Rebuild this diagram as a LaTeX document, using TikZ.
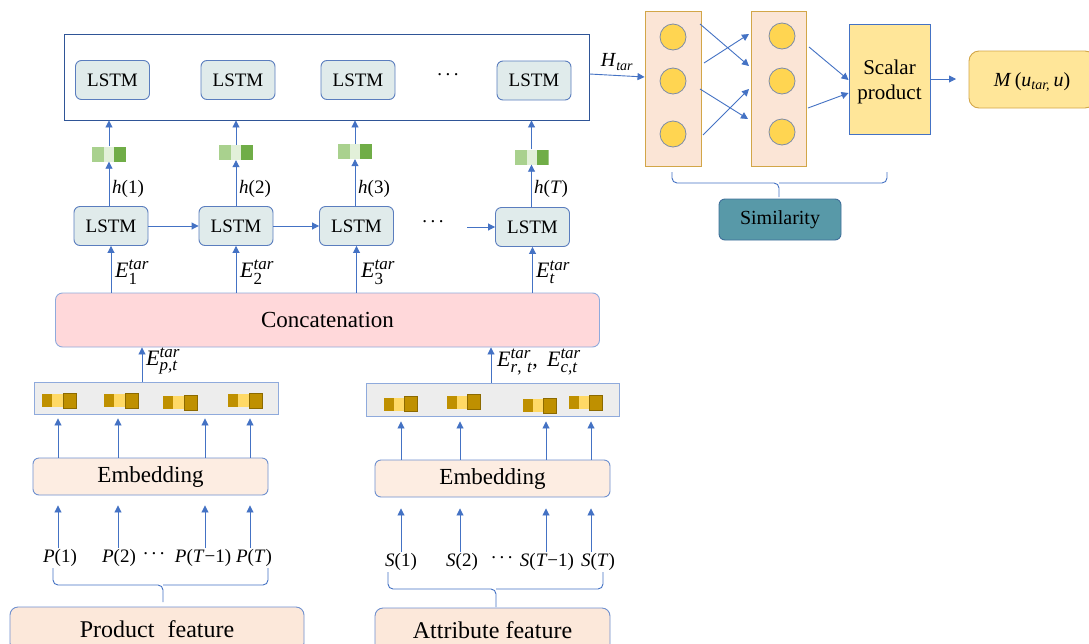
\documentclass[tikz,border=0pt]{standalone}
\usepackage{amsmath}
\usepackage{fontspec}
\setmainfont{LiberationSerif}[Extension=.ttf,UprightFont=*-Regular,ItalicFont=*-Italic,BoldFont=*-Bold,BoldItalicFont=*-BoldItalic]
\usetikzlibrary{arrows.meta}
\DeclareMathSizes{22}{22}{17}{13}
\DeclareMathSizes{20}{20}{14}{11}
\DeclareMathSizes{19}{19}{14}{11}
\definecolor{lb}{HTML}{4472C4}
\definecolor{lstmf}{HTML}{E0EBEB}
\definecolor{lstmb}{HTML}{5A7DBE}
\definecolor{topb}{HTML}{2F5597}
\definecolor{concf}{HTML}{FFD8DA}
\definecolor{lightb}{HTML}{8FAADC}
\definecolor{embf}{HTML}{FDEDE2}
\definecolor{embb}{HTML}{6F90CF}
\definecolor{vecf}{HTML}{EDEDED}
\definecolor{gold1}{HTML}{BF9000}
\definecolor{gold2}{HTML}{FFD966}
\definecolor{gold3}{HTML}{8C6A00}
\definecolor{g1}{HTML}{A9D18E}
\definecolor{g2}{HTML}{E2F0D9}
\definecolor{g3}{HTML}{70AD47}
\definecolor{colf}{HTML}{FBE5D6}
\definecolor{colb}{HTML}{D2A648}
\definecolor{circf}{HTML}{FFD551}
\definecolor{circb}{HTML}{7C8CA8}
\definecolor{scf}{HTML}{FFE699}
\definecolor{simf}{HTML}{5899A8}
\definecolor{simb}{HTML}{3F6F9A}
\definecolor{featf}{HTML}{FCE8DA}
\newcommand\fsA{\fontsize{19}{22}\selectfont}
\newcommand\fsB{\fontsize{19}{22}\selectfont}
\newcommand\fsC{\fontsize{20}{24}\selectfont}
\newcommand\fsD{\fontsize{22}{26}\selectfont}
\newcommand\fsE{\fontsize{23}{27}\selectfont}
\newcommand\fsF{\fontsize{24}{28}\selectfont}
\newcommand\ti[1]{\text{\itshape #1}}
\newcommand\mydots{\raisebox{0.3em}{.\hspace{0.18em}.\hspace{0.18em}.}}
\tikzset{
  lstm/.style={draw=lstmb, fill=lstmf, rounded corners=6pt, line width=0.9pt,
    minimum width=74pt, minimum height=39pt, inner sep=0pt, font=\fsA},
  arr/.style={draw=lb, line width=0.9pt, -{Triangle[width=7pt,length=7pt]}},
  lbl/.style={inner sep=1pt},
  gvec/.style={minimum width=34pt, minimum height=15pt, inner sep=0pt,
    path picture={
      \fill[g1] (path picture bounding box.south west) rectangle ([xshift=12pt]path picture bounding box.north west);
      \fill[g2] ([xshift=12pt]path picture bounding box.south west) rectangle ([xshift=22pt]path picture bounding box.north west);
      \fill[g3] ([xshift=22pt]path picture bounding box.south west) rectangle (path picture bounding box.north east);
    }},
  goldvec/.pic={
    \fill[gold1] (-17,-6.5) rectangle (-7,6.5);
    \fill[gold2] (-7,-6.5) rectangle (4,6.5);
    \filldraw[fill=gold1,draw=gold3,line width=0.6pt] (4,-7.5) rectangle (17,7.5);
  },
  vbox/.style={draw=lightb, fill=vecf, line width=0.9pt, inner sep=0pt},
  embbox/.style={draw=embb, fill=embf, rounded corners=6pt, line width=0.9pt, inner sep=0pt, font=\fsE},
  featbox/.style={draw=embb, fill=featf, rounded corners=8pt, line width=0.9pt, inner sep=0pt, font=\fsF},
  colbox/.style={draw=colb, fill=colf, line width=0.9pt, inner sep=0pt},
  neuron/.style={circle, draw=circb, fill=circf, line width=0.8pt, minimum size=26pt, inner sep=0pt},
  bracepath/.style={draw=lb, line width=0.9pt, rounded corners=5pt}
}
\begin{document}
\begin{tikzpicture}[x=1pt,y=-1pt]
\useasboundingbox (0,0) rectangle (1089,643);
\fill[white] (0,0) rectangle (1089,643);

% ---------- top LSTM layer ----------
\node[draw=topb, line width=0.9pt, fill=white, minimum width=525pt, minimum height=86pt, inner sep=0pt] (top) at (326.5,77) {};
\node[lstm] (t1) at (112.5,80) {LSTM};
\node[lstm] (t2) at (238,80) {LSTM};
\node[lstm] (t3) at (358,80) {LSTM};
\node[lstm] (t4) at (534,80.5) {LSTM};
\node[font=\fsA] (tdots) at (448,77) {\mydots};

% ---------- hidden vectors ----------
\node[gvec] (v1) at (109,154) {};
\node[gvec] (v2) at (236,152.5) {};
\node[gvec] (v3) at (355,151.5) {};
\node[gvec] (v4) at (531.5,157) {};
\foreach \i in {1,...,4} {\draw[arr] (v\i.north) -- (v\i.north |- top.south);}

% ---------- bottom LSTM chain ----------
\node[lstm] (b1) at (111,226) {LSTM};
\node[lstm] (b2) at (236,226) {LSTM};
\node[lstm] (b3) at (356.5,226) {LSTM};
\node[lstm] (b4) at (532.5,227) {LSTM};
\node[font=\fsA] (bdots) at (433,224) {\mydots};
\coordinate (b4in) at (467,227);
\draw[arr] (b1.east) -- (b2.west);
\draw[arr] (b2.east) -- (b3.west);
\draw[arr] (b4in) -- (b4.west);
\foreach \i in {1,...,4} {\draw[arr] (b\i.north -| v\i.south) -- (v\i.south);}
\node[lbl, anchor=west, font=\fsA] (h1) at (111,189) {\textit{h}(1)};
\node[lbl, anchor=west, font=\fsA] (h2) at (238,189) {\textit{h}(2)};
\node[lbl, anchor=west, font=\fsA] (h3) at (357,189) {\textit{h}(3)};
\node[lbl, anchor=west, font=\fsA] (h4) at (533,189) {\textit{h}(\textit{T})};

% ---------- concatenation ----------
\node[draw=lightb, fill=concf, rounded corners=7pt, line width=0.9pt, minimum width=544pt, minimum height=54pt, inner sep=0pt, font=\fsE] (conc) at (327.5,320) {Concatenation};
\foreach \i in {1,...,4} {\draw[arr] (b\i.south |- conc.north) -- (b\i.south);}
\node[lbl, anchor=west, font=\fsD] (e1) at (114,272) {$\ti{E}^{\ti{tar}}_{\text{1}}$};
\node[lbl, anchor=west, font=\fsD] (e2) at (239,272) {$\ti{E}^{\ti{tar}}_{\text{2}}$};
\node[lbl, anchor=west, font=\fsD] (e3) at (360,272) {$\ti{E}^{\ti{tar}}_{\text{3}}$};
\node[lbl, anchor=west, font=\fsD] (e4) at (535,272) {$\ti{E}^{\ti{tar}}_{\ti{t}}$};

% ---------- embedding vectors ----------
\node[vbox, minimum width=244pt, minimum height=32pt] (vb1) at (156,398) {};
\node[vbox, minimum width=253pt, minimum height=33pt] (vb2) at (492.5,399.5) {};
\pic at (59,400.5) {goldvec};
\pic at (121,400.5) {goldvec};
\pic at (180,402.5) {goldvec};
\pic at (245,400.5) {goldvec};
\pic at (400.5,404) {goldvec};
\pic at (463.5,402) {goldvec};
\pic at (539.5,405.5) {goldvec};
\pic at (585.5,402.5) {goldvec};
\coordinate (ep) at (142,382);
\coordinate (erc) at (491,383);
\draw[arr] (ep) -- (ep |- conc.south);
\draw[arr] (erc) -- (erc |- conc.south);
\node[lbl, anchor=west, font=\fsD] (ept) at (145,361) {$\ti{E}^{\ti{tar}}_{\ti{p,t}}$};
\node[lbl, anchor=west, font=\fsD] (erct) at (496,362) {$\ti{E}^{\ti{tar}}_{\ti{r}\text{,\,\,}\ti{t}}\text{,\ \,}\ti{E}^{\ti{tar}}_{\ti{c,t}}$};

% ---------- embeddings ----------
\node[embbox, minimum width=235pt, minimum height=37pt] (emb1) at (150.5,476.5) {Embedding};
\node[embbox, minimum width=235pt, minimum height=37pt] (emb2) at (492.5,478.5) {Embedding};

% ---------- product features ----------
\node[lbl, font=\fsB] (p1) at (60,558) {\textit{P}(1)};
\node[lbl, font=\fsB] (p2) at (119,558) {\textit{P}(2)};
\node[lbl, font=\fsB] (pd) at (154,556) {\mydots};
\node[lbl, font=\fsB] (p3) at (203,558) {\textit{P}(\textit{T}−1)};
\node[lbl, font=\fsB] (p4) at (254,558) {\textit{P}(\textit{T})};
\foreach \i/\x in {1/58,2/118,3/205,4/250} {
  \draw[arr, shorten >=10pt] (p\i.north -| \x,0) -- (emb1.south -| \x,0);
  \draw[arr, shorten >=4pt] (emb1.north -| \x,0) -- (vb1.south -| \x,0);
}
\node[lbl, font=\fsB] (s1) at (401,562) {\textit{S}(1)};
\node[lbl, font=\fsB] (s2) at (462,562) {\textit{S}(2)};
\node[lbl, font=\fsB] (sd) at (502,560) {\mydots};
\node[lbl, font=\fsB] (s3) at (547,562) {\textit{S}(\textit{T}−1)};
\node[lbl, font=\fsB] (s4) at (598,562) {\textit{S}(\textit{T})};
\foreach \i/\x in {1/401,2/460,3/546,4/591} {
  \draw[arr, shorten >=11pt] (s\i.north -| \x,0) -- (emb2.south -| \x,0);
  \draw[arr, shorten >=5pt] (emb2.north -| \x,0) -- (vb2.south -| \x,0);
}

% braces
\draw[bracepath] (53,568) |- (163,585) -- (163,602);
\draw[bracepath] (268,568) |- (163,585);
\draw[bracepath] (388,572) |- (496,589) -- (496,607);
\draw[bracepath] (603,572) |- (496,589);

\node[featbox, minimum width=294pt, minimum height=44pt] (pf) at (157,629) {Product\hspace{0.3em} feature};
\node[featbox, minimum width=235pt, minimum height=44pt] (af) at (492.5,630) {Attribute feature};

% ---------- similarity part ----------
\node[colbox, minimum width=56pt, minimum height=155pt] (col1) at (673,88.5) {};
\node[colbox, minimum width=55pt, minimum height=155pt] (col2) at (778.5,88.5) {};
\node[neuron] (c11) at (673,37) {};
\node[neuron] (c12) at (673,81) {};
\node[neuron] (c13) at (673,134) {};
\node[neuron] (c21) at (782,36) {};
\node[neuron] (c22) at (782,81) {};
\node[neuron] (c23) at (782,132) {};

\draw[arr] ([yshift=3pt]top.east) -- ([yshift=11.5pt]col1.west);
\node[lbl, font=\fsC] (htar) at (617,62) {\textit{H}$_{\ti{tar}}$};

\coordinate (a1s) at (700,24);  \coordinate (a1e) at (749,66);
\coordinate (a2s) at (704,63);  \coordinate (a2e) at (749,34);
\coordinate (a3s) at (700,89);  \coordinate (a3e) at (748,119);
\coordinate (a4s) at (703,135); \coordinate (a4e) at (749,89);
\draw[arr] (a1s) -- (a1e);
\draw[arr] (a2s) -- (a2e);
\draw[arr] (a3s) -- (a3e);
\draw[arr] (a4s) -- (a4e);

\node[draw=lb, fill=scf, line width=0.9pt, minimum width=81pt, minimum height=110pt, inner sep=0pt] (sc) at (889.5,79) {};
\node[lbl, align=center, font=\fontsize{21}{25}\selectfont] (sctxt) at (889.5,82) {Scalar\\product};
\coordinate (s1s) at (809,47); \coordinate (s2s) at (808,108);
\draw[arr] (s1s) -- (sc.west |- 0,80);
\draw[arr] (s2s) -- (sc.west |- 0,93);
\coordinate (mout) at (956,79);
\draw[arr] (sc.east |- mout) -- (mout);
\node[draw=colb, fill=scf, rounded corners=10pt, line width=0.9pt, minimum width=126pt, minimum height=57pt, inner sep=0pt] (mb) at (1032,79.5) {};
\node[lbl, font=\fsC] (mtxt) at (1032,82) {\textit{M}\,(\textit{u}$_{\ti{tar,}}$\,\textit{u})};

\draw[bracepath] (672,172) |- (779,183) -- (779,197);
\draw[bracepath] (887,172) |- (779,183);
\node[draw=simb, fill=simf, rounded corners=6pt, line width=0.9pt, minimum width=122pt, minimum height=41pt, inner sep=0pt, font=\fsC] (sim) at (780,219.5) {Similarity};
\end{tikzpicture}
\end{document}
